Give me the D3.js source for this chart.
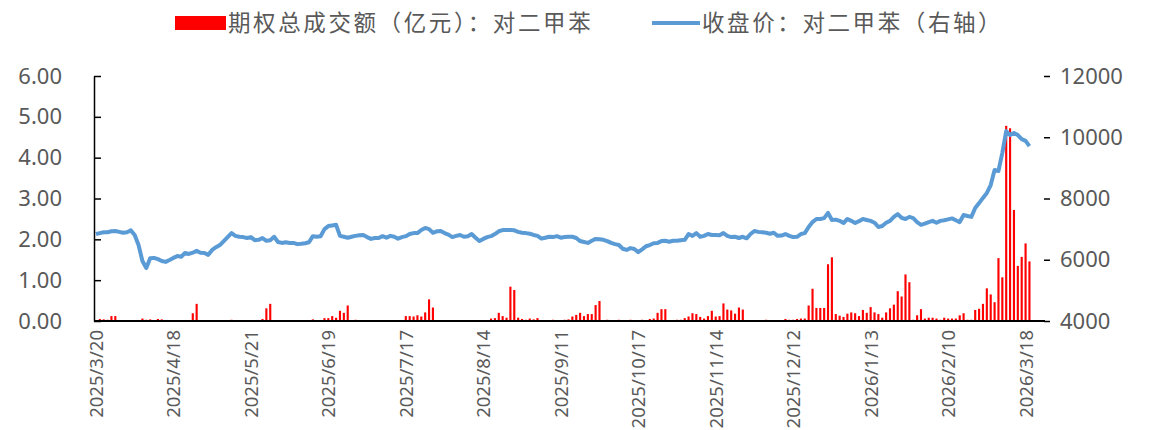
<!DOCTYPE html>
<html>
<head>
<meta charset="utf-8">
<script src="https://cdn.jsdelivr.net/npm/d3@7"></script>
<style>
  body { margin: 0; background: #fff; }
  svg text { font-family: "Noto Sans", "Noto Sans CJK SC", sans-serif; fill: #595959; }
  .legend text { font-family: "Noto Sans CJK SC", sans-serif; }
</style>
</head>
<body>
<svg id="chart"></svg>
<script>
// x ticks every 20 trading days, 245 categories on the axis
const tickLabels = ['2025/3/20','2025/4/18','2025/5/21','2025/6/19','2025/7/17','2025/8/14',
  '2025/9/11','2025/10/17','2025/11/14','2025/12/12','2026/1/13','2026/2/10','2026/3/18'];
const tickStep = 20;
const nCats = 245;

// 期权总成交额（亿元）
const volume = [
  0.02,0.05,0.04,0.03,0.12,0.12,0.01,0.01,0.01,0.01,
  0.01,0.01,0.06,0.03,0.04,0.02,0.05,0.04,0.01,0.01,
  0.01,0.01,0.01,0.01,0.01,0.19,0.42,0.01,0.01,0.01,
  0.01,0.01,0.01,0.01,0.01,0.03,0.01,0.01,0.01,0.01,
  0.01,0.01,0.01,0.05,0.31,0.42,0.01,0.01,0.01,0.01,
  0.01,0.02,0.01,0.01,0.01,0.01,0.04,0.02,0.01,0.07,
  0.07,0.12,0.08,0.25,0.20,0.38,0.01,0.03,0.01,0.01,
  0.01,0.01,0.02,0.01,0.01,0.01,0.01,0.02,0.01,0.01,
  0.12,0.12,0.11,0.14,0.11,0.21,0.53,0.33,0.01,0.01,
  0.01,0.02,0.01,0.01,0.01,0.01,0.01,0.01,0.01,0.01,
  0.01,0.01,0.06,0.07,0.20,0.12,0.08,0.84,0.76,0.08,
  0.05,0.03,0.06,0.04,0.07,0.02,0.02,0.01,0.03,0.01,
  0.01,0.03,0.04,0.11,0.15,0.20,0.12,0.17,0.17,0.39,
  0.49,0.01,0.03,0.02,0.02,0.03,0.02,0.02,0.03,0.02,
  0.02,0.03,0.02,0.05,0.06,0.20,0.29,0.29,0.01,0.01,
  0.03,0.03,0.07,0.11,0.19,0.17,0.10,0.06,0.12,0.25,
  0.11,0.12,0.43,0.28,0.26,0.18,0.33,0.28,0.02,0.01,
  0.01,0.01,0.01,0.03,0.01,0.01,0.01,0.01,0.05,0.03,
  0.03,0.05,0.06,0.06,0.38,0.79,0.32,0.32,0.32,1.39,
  1.56,0.17,0.13,0.10,0.18,0.21,0.19,0.12,0.27,0.20,
  0.34,0.21,0.17,0.08,0.21,0.31,0.40,0.73,0.60,1.14,
  0.95,0.03,0.14,0.29,0.06,0.08,0.08,0.06,0.03,0.08,
  0.06,0.06,0.06,0.14,0.19,0.03,0.03,0.27,0.30,0.42,
  0.80,0.65,0.46,1.54,1.07,4.78,4.72,2.72,1.35,1.57,
  1.90,1.46
];

// 收盘价：对二甲苯（右轴）
const close = [
  6840,6870,6900,6900,6930,6940,6910,6880,6900,6960,
  6810,6480,5960,5730,6050,6060,6020,5960,5930,5990,
  6060,6120,6100,6220,6190,6230,6290,6230,6220,6160,
  6320,6410,6480,6610,6740,6870,6780,6750,6740,6710,
  6740,6640,6650,6710,6620,6640,6750,6580,6550,6570,
  6550,6550,6510,6520,6540,6570,6770,6750,6770,7000,
  7100,7120,7140,6780,6750,6720,6750,6780,6800,6810,
  6740,6680,6710,6710,6770,6720,6780,6750,6690,6740,
  6770,6840,6870,6870,6970,7040,7000,6880,6930,6940,
  6870,6820,6740,6780,6810,6750,6770,6840,6720,6610,
  6680,6740,6770,6840,6930,6970,6970,6970,6960,6910,
  6880,6870,6850,6810,6780,6690,6720,6750,6740,6770,
  6720,6740,6750,6750,6710,6610,6580,6550,6620,6680,
  6670,6650,6610,6550,6510,6480,6360,6320,6380,6350,
  6250,6340,6440,6480,6540,6550,6610,6620,6590,6620,
  6620,6640,6650,6840,6780,6870,6750,6780,6840,6810,
  6810,6800,6870,6780,6740,6750,6710,6750,6700,6840,
  6940,6910,6900,6880,6850,6880,6780,6790,6840,6780,
  6740,6750,6840,6870,7070,7230,7330,7330,7360,7530,
  7300,7310,7270,7200,7330,7270,7200,7260,7330,7300,
  7270,7210,7070,7100,7210,7270,7400,7490,7370,7330,
  7400,7360,7230,7140,7180,7230,7270,7210,7270,7290,
  7320,7350,7290,7230,7460,7430,7400,7690,7850,8020,
  8180,8440,8930,8900,9490,10200,10070,10140,10070,9940,
  9880,9710
];

const leftTicks = [0, 1, 2, 3, 4, 5, 6];
const rightTicks = [4000, 6000, 8000, 10000, 12000];

const width = 1153;
const height = 430;
const margin = {top: 76, left: 94, right: 110, bottom: 109};

const svg = d3.select('#chart')
  .attr('width', width)
  .attr('height', height);

const x = d3.scaleBand()
  .domain(d3.range(nCats))
  .range([margin.left, width - margin.right])
  .paddingInner(0);

const yLeft = d3.scaleLinear().domain([0, 6]).range([height - margin.bottom, margin.top]);
const yRight = d3.scaleLinear().domain([4000, 12000]).range([height - margin.bottom, margin.top]);

const cx = i => x(i) + x.bandwidth() / 2;
const barW = x.bandwidth() * 0.55;

// bars
svg.append('g')
  .selectAll('rect')
  .data(volume)
  .join('rect')
    .attr('x', (d, i) => cx(i) - barW / 2)
    .attr('y', d => yLeft(d))
    .attr('width', barW)
    .attr('height', d => yLeft(0) - yLeft(d))
    .attr('fill', '#ff0000');

// close line
const line = d3.line()
  .x((d, i) => cx(i))
  .y(d => yRight(d));

svg.append('path')
  .datum(close)
  .attr('d', line)
  .attr('fill', 'none')
  .attr('stroke', '#5b9bd5')
  .attr('stroke-width', 4)
  .attr('stroke-linejoin', 'round');

// left axis
const axL = svg.append('g')
  .attr('transform', `translate(${margin.left},0)`)
  .call(d3.axisLeft(yLeft).tickValues(leftTicks).tickFormat(d3.format('.2f'))
    .tickSizeInner(-7).tickSizeOuter(0).tickPadding(32));
axL.select('.domain').attr('stroke', '#000').attr('stroke-width', 1.5);
axL.selectAll('.tick line').attr('stroke', '#000').attr('stroke-width', 1.5);
axL.selectAll('text').style('font-size', '22px').attr('fill', '#595959');

// right axis
const axR = svg.append('g')
  .attr('transform', `translate(${width - margin.right + 1},0)`)
  .call(d3.axisRight(yRight).tickValues(rightTicks).tickFormat(d3.format('d'))
    .tickSizeInner(6).tickSizeOuter(0).tickPadding(10));
axR.select('.domain').remove();
axR.selectAll('.tick line').attr('stroke', '#000').attr('stroke-width', 1.5);
axR.selectAll('text').style('font-size', '22px').attr('fill', '#595959');

// bottom axis
svg.append('line')
  .attr('x1', margin.left)
  .attr('x2', width - margin.right + 2)
  .attr('y1', yLeft(0))
  .attr('y2', yLeft(0))
  .attr('stroke', '#000')
  .attr('stroke-width', 2);

svg.append('g')
  .selectAll('text')
  .data(tickLabels)
  .join('text')
    .attr('transform', (d, i) => `translate(${cx(i * tickStep) + 7},${yLeft(0) + 9}) rotate(-90)`)
    .attr('text-anchor', 'end')
    .style('font-size', '18.5px')
    .text(d => d);

// legend
const legend = svg.append('g').attr('class', 'legend');
legend.append('rect')
  .attr('x', 175).attr('y', 16)
  .attr('width', 51).attr('height', 14)
  .attr('fill', '#ff0000');
legend.append('text')
  .attr('x', 228).attr('y', 31)
  .style('font-size', '22.5px')
  .style('letter-spacing', '2.6px')
  .text('期权总成交额（亿元）：对二甲苯');
legend.append('line')
  .attr('x1', 652).attr('x2', 700)
  .attr('y1', 23).attr('y2', 23)
  .attr('stroke', '#5b9bd5')
  .attr('stroke-width', 4);
legend.append('text')
  .attr('x', 702).attr('y', 31)
  .style('font-size', '22.5px')
  .style('letter-spacing', '2.6px')
  .text('收盘价：对二甲苯（右轴）');
</script>
</body>
</html>
